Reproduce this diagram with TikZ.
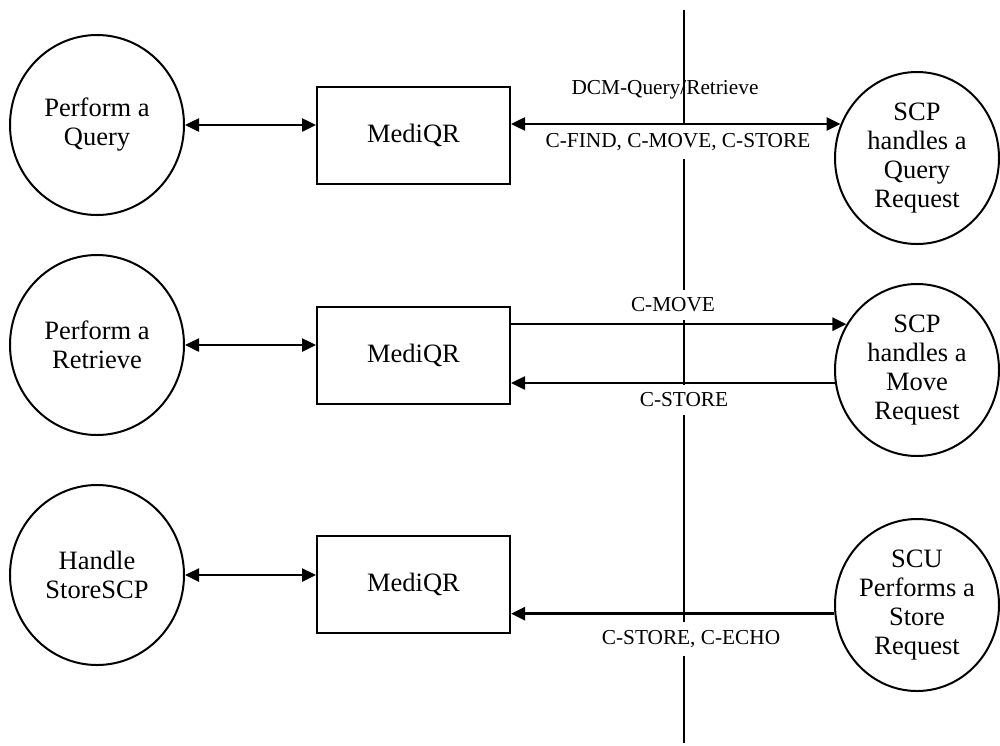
\documentclass[tikz,border=0pt]{standalone}
\usepackage{fontspec}
\setmainfont{Liberation Serif}
\usetikzlibrary{arrows.meta,shapes.geometric}

\begin{document}
\begin{tikzpicture}[
    x=1pt, y=-1pt,
    usecase/.style={draw, ellipse, line width=2pt, align=center, inner sep=0pt, font=\fontsize{26.5}{29}\selectfont},
    leftcase/.style={usecase, minimum width=174pt, minimum height=180pt},
    rightcase/.style={usecase, minimum width=164pt, minimum height=172pt},
    mediqr/.style={draw, rectangle, line width=2pt, minimum width=193pt, minimum height=97pt, font=\fontsize{26.5}{29}\selectfont},
    link/.style={line width=2.5pt, -{Triangle[length=14pt,width=13pt]}},
    dbllink/.style={line width=2.5pt, {Triangle[length=14pt,width=13pt]}-{Triangle[length=14pt,width=13pt]}},
    msg/.style={font=\fontsize{21.3}{24}\selectfont, inner xsep=3pt, inner ysep=8pt},
    msgbg/.style={msg, fill=white},
    divider/.style={line width=2pt}
]
    \useasboundingbox (0,0) rectangle (1000,745);

    % Trennlinie zwischen lokalem System und entfernten Knoten
    \coordinate (divtop) at (684,10);
    \coordinate (divbot) at (684,743);
    \draw[divider] (divtop) -- (divbot);

    % Beschriftungen der Nachrichten
    \node[msg]   (lblqr)   at (665,90)  {DCM-Query/Retrieve};
    \node[msgbg] (lblfind) at (678,142) {C-FIND, C-MOVE, C-STORE};
    \node[msgbg] (lblmove) at (673,305) {C-MOVE};
    \node[msgbg] (lblstor) at (684,400) {C-STORE};
    \node[msgbg] (lblecho) at (691,639) {C-STORE, C-ECHO};

    % Linke Spalte: Anwendungsfaelle
    \node[leftcase] (query)    at (97,125) {Perform a\\Query};
    \node[leftcase] (retrieve) at (97,345) {Perform a\\Retrieve};
    \node[leftcase] (storescp) at (97,575) {Handle\\StoreSCP};

    % Mittlere Spalte: MediQR
    \node[mediqr] (mqa) at (413.5,135.5) {MediQR};
    \node[mediqr] (mqb) at (413.5,355.5) {MediQR};
    \node[mediqr] (mqc) at (413.5,584.5) {MediQR};

    % Rechte Spalte: entfernte Partner
    \node[rightcase] (scpquery) at (917,158) {SCP\\handles a\\Query\\Request};
    \node[rightcase] (scpmove)  at (917,370) {SCP\\handles a\\Move\\Request};
    \node[rightcase] (scustore) at (917,605) {SCU\\Performs a\\Store\\Request};

    % Verbindungen links
    \draw[dbllink] (query) -- (query -| mqa.west);
    \draw[dbllink] (retrieve) -- (retrieve -| mqb.west);
    \draw[dbllink] (storescp) -- (storescp -| mqc.west);

    % Verbindungen rechts
    \draw[dbllink] (scpquery.156 -| mqa.east) -- (scpquery.156);
    \draw[link] (scpmove.147 -| mqb.east) -- (scpmove.147);
    \draw[link] (scpmove.189) -- (scpmove.189 -| mqb.east);
    \draw[link] (scustore.186) -- (scustore.186 -| mqc.east);
\end{tikzpicture}
\end{document}
